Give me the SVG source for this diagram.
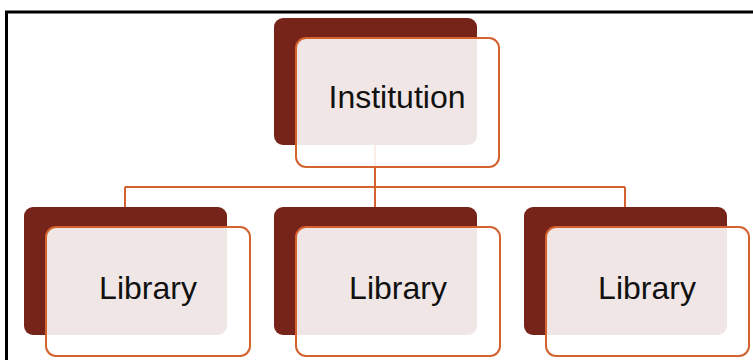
<svg xmlns="http://www.w3.org/2000/svg" width="753" height="360" viewBox="0 0 753 360">
<style>
.dark{fill:#76231a}
.front{fill:#ffffff;fill-opacity:0.89;stroke:#d4622f;stroke-width:2}
.conn{fill:none;stroke:#d4622f;stroke-width:2}
.lbl{font-family:"Liberation Sans",Arial,sans-serif;font-size:32px;fill:#111111;text-anchor:middle}
</style>
<rect x="0" y="0" width="753" height="360" fill="#ffffff"/>
<path d="M6.5 362 V12 H760" fill="none" stroke="#000000" stroke-width="3"/>
<g id="connectors">
<path class="conn" d="M375 140 V187 M125 187 H625 M125 187 V207 M375 187 V207 M625 187 V207"/>
</g>
<g id="institution">
<rect class="dark" x="274" y="18" width="203" height="127" rx="9"/>
<rect class="front" x="296" y="38" width="203" height="129" rx="10"/>
<text class="lbl" x="397" y="108">Institution</text>
</g>
<g id="library1">
<rect class="dark" x="24" y="207" width="203" height="128" rx="9"/>
<rect class="front" x="46" y="227" width="204" height="129" rx="10"/>
<text class="lbl" x="148" y="299">Library</text>
</g>
<g id="library2">
<rect class="dark" x="274" y="207" width="203" height="128" rx="9"/>
<rect class="front" x="296" y="227" width="204" height="129" rx="10"/>
<text class="lbl" x="398" y="299">Library</text>
</g>
<g id="library3">
<rect class="dark" x="524" y="207" width="203" height="128" rx="9"/>
<rect class="front" x="546" y="227" width="203" height="129" rx="10"/>
<text class="lbl" x="647" y="299">Library</text>
</g>
</svg>
